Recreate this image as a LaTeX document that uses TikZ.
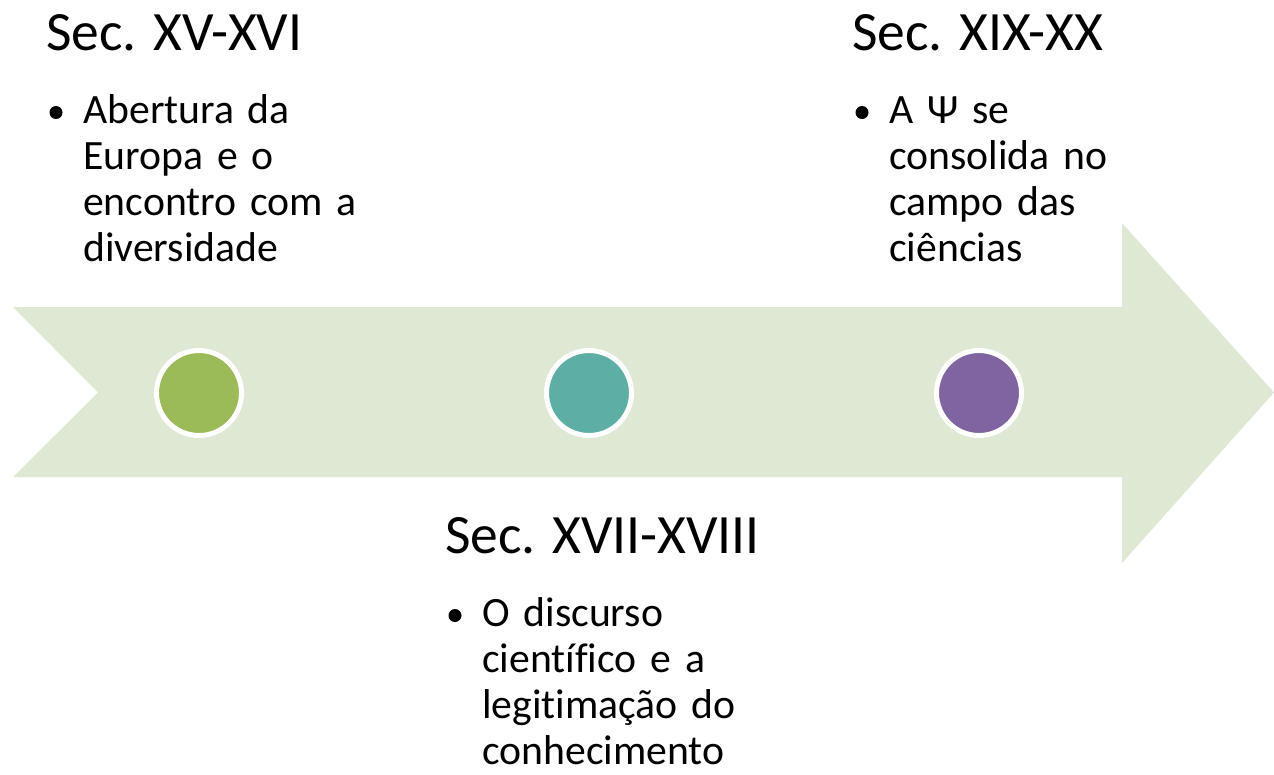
\documentclass[tikz,border=0pt]{standalone}
\usepackage{fontspec}
\setmainfont[Ligatures=NoCommon]{Carlito}
\definecolor{arrowfill}{HTML}{DFE8D2}
\definecolor{dotgreen}{HTML}{9BBB59}
\definecolor{dotteal}{HTML}{5DAFA5}
\definecolor{dotpurple}{HTML}{8064A2}
\begin{document}
\begin{tikzpicture}[x=1pt,y=-1pt,
  dot/.style={circle,draw=white,line width=5pt,minimum size=85pt,inner sep=0pt},
  title/.style={anchor=base west,inner sep=0pt,font=\fontsize{55.5}{65}\selectfont},
  body/.style={anchor=base west,inner sep=0pt,text width=330pt,align=left,font=\fontsize{41.7}{46.3}\selectfont},
  bul/.style={circle,fill=black,inner sep=0pt,minimum size=13pt}]
\useasboundingbox (0,0) rectangle (1274,774);
\fill[arrowfill] (13,307) -- (1122,307) -- (1122,223) -- (1274,392.5) -- (1122,563) -- (1122,477) -- (13,477) -- (98,392.5) -- cycle;
\node[dot,fill=dotgreen] (c1) at (199,393) {};
\node[dot,fill=dotteal] (c2) at (589,393) {};
\node[dot,fill=dotpurple] (c3) at (979,393) {};
% group 1
\node[title] (t1) at (46,50) {Sec. XV-XVI};
\node[bul] (b1) at (56,112.5) {};
\node[body] (x1) at (83,123) {Abertura da\\Europa e o\\encontro com a\\diversidade};
% group 2
\node[title] (t2) at (445,553) {Sec. XVII-XVIII};
\node[bul] (b2) at (455,615.5) {};
\node[body] (x2) at (482,626) {O discurso\\científico e a\\legitimação do\\conhecimento};
% group 3
\node[title] (t3) at (852,50) {Sec. XIX-XX};
\node[bul] (b3) at (862,112.5) {};
\node[body] (x3) at (889,123) {A Ψ se\\consolida no\\campo das\\ciências};
\end{tikzpicture}
\end{document}
